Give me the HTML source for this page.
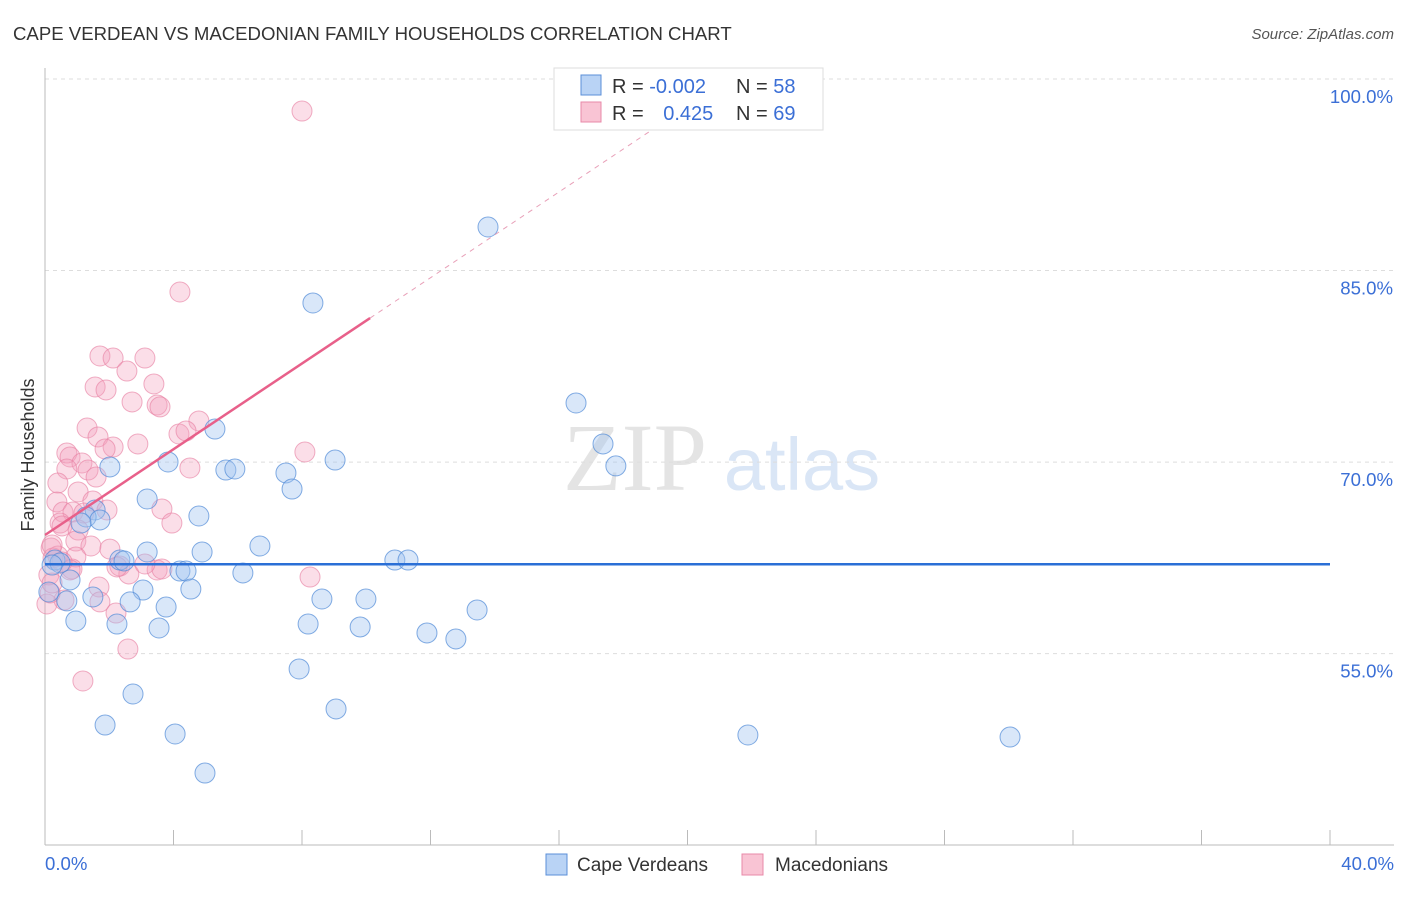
<!DOCTYPE html>
<html><head><meta charset="utf-8"><style>
body{margin:0;background:#fff;font-family:"Liberation Sans",sans-serif;}
</style></head><body>
<svg width="1406" height="892" xmlns="http://www.w3.org/2000/svg" font-family="Liberation Sans, sans-serif">
<text x="13" y="40" font-size="18.6" fill="#333">CAPE VERDEAN VS MACEDONIAN FAMILY HOUSEHOLDS CORRELATION CHART</text>
<text x="1394" y="39" font-size="15" fill="#555" font-style="italic" text-anchor="end">Source: ZipAtlas.com</text>
<text x="635" y="490" font-size="96" fill="#e4e4e4" font-family="Liberation Serif, serif" text-anchor="middle">ZIP</text>
<text x="802" y="490" font-size="74" fill="#dae6f6" text-anchor="middle">atlas</text>
<g id="grid"></g>
<g id="axes"></g>
<g id="marks"></g>
<text x="34" y="455" font-size="18" fill="#333" text-anchor="middle" transform="rotate(-90 34 455)">Family Households</text>
<g>
<rect x="554" y="68" width="269" height="62" fill="#fff" stroke="#ddd"/>
<rect x="581" y="75" width="20" height="20" fill="#b9d3f5" stroke="#5b8fd8"/>
<rect x="581" y="102" width="20" height="20" fill="#f9c4d4" stroke="#e88aa8"/>
<text x="612" y="93" font-size="20" fill="#333">R = <tspan fill="#3b6fd6">-0.002</tspan></text>
<text x="736" y="93" font-size="20" fill="#333">N = <tspan fill="#3b6fd6">58</tspan></text>
<text x="612" y="120" font-size="20" fill="#333">R = <tspan fill="#3b6fd6" dx="14">0.425</tspan></text>
<text x="736" y="120" font-size="20" fill="#333">N = <tspan fill="#3b6fd6">69</tspan></text>
</g>
<g>
<rect x="546" y="854" width="21" height="21" fill="#b9d3f5" stroke="#5b8fd8"/>
<text x="577" y="871" font-size="19" fill="#333">Cape Verdeans</text>
<rect x="742" y="854" width="21" height="21" fill="#f9c4d4" stroke="#e88aa8"/>
<text x="775" y="871" font-size="19" fill="#333">Macedonians</text>
</g>
</svg>
<script>
const yTicks=[100,85,70,55];
const yTickLabels=["100.0%","85.0%","70.0%","55.0%"];
const xTicks=[0,4,8,12,16,20,24,28,32,36,40];
const xEndLabels=["0.0%","40.0%"];
const blueX=[13.79,8.34,16.53,17.37,17.77,5.29,2.02,3.83,5.63,5.91,7.50,9.03,7.69,3.18,1.56,1.28,1.71,1.12,4.79,6.69,3.18,4.89,2.33,2.46,10.89,11.30,4.20,4.39,6.16,0.31,0.47,0.78,3.05,4.54,1.49,2.65,0.68,8.62,9.99,3.77,13.45,0.96,2.24,3.55,8.19,9.81,11.89,12.79,7.91,2.74,1.87,4.05,9.06,4.98,21.88,30.04,0.12,0.22];
const blueY=[88.41,82.46,74.63,71.42,69.70,72.59,69.62,70.01,69.38,69.46,69.15,70.16,67.89,67.11,66.25,65.70,65.47,65.23,65.78,63.43,62.96,62.96,62.33,62.26,62.33,62.33,61.47,61.47,61.32,62.33,62.10,60.77,59.98,60.06,59.44,59.05,59.13,59.28,59.28,58.65,58.42,57.56,57.32,57.01,57.32,57.09,56.62,56.15,53.80,51.84,49.41,48.71,50.67,45.65,48.63,48.47,59.83,61.94];
const pinkX=[8.00,4.20,1.71,2.12,3.11,2.55,1.56,1.90,3.39,2.71,3.49,3.58,4.79,1.31,4.17,1.65,2.12,2.89,0.68,0.78,1.87,8.09,1.15,0.68,1.34,4.51,1.59,0.40,1.03,1.49,0.37,3.64,0.56,0.87,1.93,1.21,3.95,0.47,0.53,1.03,0.96,1.43,2.02,0.19,0.25,0.12,0.40,0.96,2.33,2.61,3.49,3.64,2.24,0.84,1.68,8.25,0.59,1.71,0.78,2.21,2.58,1.18,0.06,0.16,0.22,0.53,4.39,0.22,3.11];
const pinkY=[97.49,83.32,78.31,78.15,78.15,77.13,75.88,75.65,76.12,74.71,74.47,74.32,73.22,72.67,72.20,71.97,71.18,71.42,70.71,70.40,71.03,70.79,69.93,69.46,69.38,69.54,68.83,68.36,67.66,66.95,66.88,66.33,66.09,66.09,66.25,66.01,65.23,65.23,65.00,64.68,63.82,63.43,63.19,63.27,62.49,61.16,62.65,62.57,61.86,61.24,61.55,61.63,61.79,61.63,60.22,61.00,59.20,59.05,61.55,58.18,55.36,52.86,58.89,59.75,60.53,62.18,72.44,63.51,62.02];
const blueTrend=[62.0,0];
const pinkTrend=[64.29,1.679];
const pinkSolidEnd=[10.12];
const pinkDashEnd=[19.0];

const NS="http://www.w3.org/2000/svg";
const sx=v=>45+v*(1285/40);
const sy=v=>79+(100-v)*12.77;
function mk(tag,attrs,parent){const e=document.createElementNS(NS,tag);for(const k in attrs)e.setAttribute(k,attrs[k]);document.getElementById(parent).appendChild(e);return e;}

yTicks.forEach((t,i)=>{
  const l=mk('line',{x1:45,x2:1394,y1:sy(t),y2:sy(t),stroke:'#ddd','stroke-dasharray':'4,4'},'grid');
  
  
  const tx=mk('text',{x:1393,y:sy(t)+24,'font-size':18.6,fill:'#3b6fd6','text-anchor':'end'},'grid');
  tx.textContent=yTickLabels[i];
  
  
});
const ax=mk('line',{x1:45,x2:45,y1:68,y2:845,stroke:'#bbb'},'axes');


const bx=mk('line',{x1:45,x2:1394,y1:845,y2:845,stroke:'#bbb'},'axes');


xTicks.forEach(t=>{
  const l=mk('line',{x1:sx(t),x2:sx(t),y1:830,y2:845,stroke:'#bbb'},'axes');
  
  
});
[[xTicks[0],'start'],[xTicks[xTicks.length-1],'end']].forEach((a,i)=>{
  const tx=mk('text',{x:i==0?sx(a[0]):1394,y:870,'font-size':18.6,fill:'#3b6fd6','text-anchor':a[1]},'axes');
  tx.textContent=xEndLabels[i];
  
  
});

pinkX.forEach((x,i)=>{
  const c=mk('circle',{cx:sx(x),cy:sy(pinkY[i]),r:10,fill:'rgba(244,160,188,0.35)',stroke:'rgba(232,130,165,0.65)','stroke-width':1},'marks');
  
  
});
blueX.forEach((x,i)=>{
  const c=mk('circle',{cx:sx(x),cy:sy(blueY[i]),r:10,fill:'rgba(160,196,240,0.4)',stroke:'rgba(80,138,215,0.7)','stroke-width':1},'marks');
  
  
});
const bl=mk('line',{x1:sx(0),x2:sx(40),y1:sy(blueTrend[0]),y2:sy(blueTrend[0]+blueTrend[1]*40),stroke:'#2a6fd6','stroke-width':2.5},'marks');


const pl=mk('line',{x1:sx(0),x2:sx(pinkSolidEnd[0]),y1:sy(pinkTrend[0]),y2:sy(pinkTrend[0]+pinkTrend[1]*pinkSolidEnd[0]),stroke:'#e8608a','stroke-width':2.5},'marks');


const pd=mk('line',{x1:sx(pinkSolidEnd[0]),x2:sx(pinkDashEnd[0]),y1:sy(pinkTrend[0]+pinkTrend[1]*pinkSolidEnd[0]),y2:sy(pinkTrend[0]+pinkTrend[1]*pinkDashEnd[0]),stroke:'#e8a0b8','stroke-width':1,'stroke-dasharray':'5,5'},'marks');


</script>
</body></html>
